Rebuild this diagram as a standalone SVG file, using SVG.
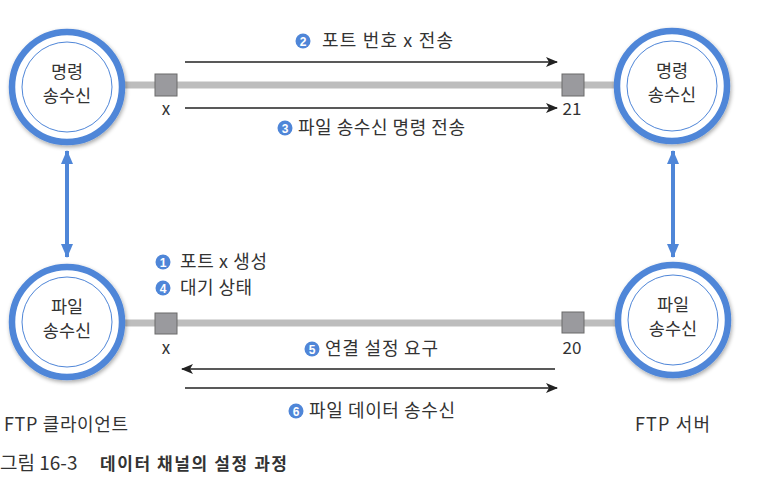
<svg xmlns="http://www.w3.org/2000/svg" width="764" height="486" viewBox="0 0 764 486">
<style>
.t{font-family:"Noto Sans CJK KR","Noto Sans",sans-serif;fill:#333;}
.lbl{font-size:18px;}
.node{font-size:17.5px;text-anchor:middle;}
.num{font-family:"Liberation Sans",Arial,sans-serif;font-size:12px;font-weight:bold;fill:#fff;text-anchor:middle;}
.outer{fill:#fff;stroke:#4f86d8;stroke-width:6.5;}
.inner{fill:none;stroke:#4f86d8;stroke-width:1;}
.chan{stroke:#bdbdbd;stroke-width:7;}
.port{fill:#9a9a9e;stroke:#6a6a6a;stroke-width:1;}
.arr{stroke:#222;stroke-width:1.3;fill:none;}
.badge{fill:#4f86d8;}
</style>
<defs>
<marker id="ah" viewBox="0 0 12 10" refX="11" refY="5" markerWidth="12" markerHeight="10" markerUnits="userSpaceOnUse" orient="auto">
<path d="M0,0 L12,5 L0,10 L3,5 Z" fill="#222"/>
</marker>
<marker id="bh" viewBox="0 0 14 12" refX="13" refY="6" markerWidth="14" markerHeight="12" markerUnits="userSpaceOnUse" orient="auto-start-reverse">
<path d="M0,0 L14,6 L0,12 Z" fill="#4f86d8"/>
</marker>
<filter id="sh" x="-20%" y="-20%" width="140%" height="140%">
<feGaussianBlur in="SourceAlpha" stdDeviation="2"/>
<feOffset dx="1" dy="2"/>
<feComponentTransfer><feFuncA type="linear" slope="0.35"/></feComponentTransfer>
<feMerge><feMergeNode/><feMergeNode in="SourceGraphic"/></feMerge>
</filter>
</defs>

<g id="connectors">
<line class="chan" x1="120" y1="85" x2="620" y2="85"/>
<line class="chan" x1="120" y1="323" x2="620" y2="323"/>
<rect class="port" x="155" y="74" width="22" height="22"/>
<rect class="port" x="562" y="74" width="22" height="22"/>
<rect class="port" x="155" y="313" width="22" height="21"/>
<rect class="port" x="562" y="312" width="22" height="21"/>
<line class="arr" x1="185" y1="62" x2="557" y2="62" marker-end="url(#ah)"/>
<line class="arr" x1="185" y1="108" x2="557" y2="108" marker-end="url(#ah)"/>
<line class="arr" x1="555" y1="369" x2="182" y2="369" marker-end="url(#ah)"/>
<line class="arr" x1="185" y1="388" x2="557" y2="388" marker-end="url(#ah)"/>
<line x1="67" y1="151" x2="67" y2="257" stroke="#4f86d8" stroke-width="4" marker-start="url(#bh)" marker-end="url(#bh)"/>
<line x1="673" y1="151" x2="673" y2="257" stroke="#4f86d8" stroke-width="4" marker-start="url(#bh)" marker-end="url(#bh)"/>
</g>

<g id="client-cmd">
<circle class="outer" cx="67" cy="87" r="55" filter="url(#sh)"/>
<circle class="inner" cx="67" cy="87" r="45"/>
<text class="t node" x="67" y="78">명령</text>
<text class="t node" x="67" y="102">송수신</text>
</g>
<g id="server-cmd">
<circle class="outer" cx="672" cy="86" r="55" filter="url(#sh)"/>
<circle class="inner" cx="672" cy="86" r="45"/>
<text class="t node" x="672" y="77">명령</text>
<text class="t node" x="672" y="101">송수신</text>
</g>
<g id="client-file">
<circle class="outer" cx="67" cy="322" r="55" filter="url(#sh)"/>
<circle class="inner" cx="67" cy="322" r="45"/>
<text class="t node" x="67" y="313">파일</text>
<text class="t node" x="67" y="337">송수신</text>
</g>
<g id="server-file">
<circle class="outer" cx="673" cy="320" r="55" filter="url(#sh)"/>
<circle class="inner" cx="673" cy="320" r="45"/>
<text class="t node" x="673" y="311">파일</text>
<text class="t node" x="673" y="335">송수신</text>
</g>

<g id="labels">
<text class="t" font-size="17" x="166" y="115" text-anchor="middle">x</text>
<text class="t" font-size="17" x="572" y="115" text-anchor="middle">21</text>
<text class="t" font-size="17" x="166" y="354" text-anchor="middle">x</text>
<text class="t" font-size="17" x="572" y="354" text-anchor="middle">20</text>

<circle class="badge" cx="303" cy="41" r="7.5"/><text class="num" x="303" y="45.5">2</text>
<text class="t lbl" x="322" y="47" textLength="131" lengthAdjust="spacing">포트 번호 x 전송</text>

<circle class="badge" cx="285" cy="128" r="7.5"/><text class="num" x="285" y="132.5">3</text>
<text class="t lbl" x="298" y="134" textLength="167" lengthAdjust="spacing">파일 송수신 명령 전송</text>

<circle class="badge" cx="163" cy="262" r="7.5"/><text class="num" x="163" y="266.5">1</text>
<text class="t lbl" x="180" y="268" textLength="87" lengthAdjust="spacing">포트 x 생성</text>

<circle class="badge" cx="163" cy="288" r="7.5"/><text class="num" x="163" y="292.5">4</text>
<text class="t lbl" x="180" y="294" textLength="72" lengthAdjust="spacing">대기 상태</text>

<circle class="badge" cx="312" cy="349" r="7.5"/><text class="num" x="312" y="353.5">5</text>
<text class="t lbl" x="325" y="355" textLength="113" lengthAdjust="spacing">연결 설정 요구</text>

<circle class="badge" cx="296" cy="411" r="7.5"/><text class="num" x="296" y="415.5">6</text>
<text class="t lbl" x="309" y="417" textLength="146" lengthAdjust="spacing">파일 데이터 송수신</text>

<text class="t lbl" x="4" y="431" textLength="124" lengthAdjust="spacing">FTP 클라이언트</text>
<text class="t lbl" x="635" y="431" textLength="75" lengthAdjust="spacing">FTP 서버</text>

<text class="t" x="0" y="470" font-size="19" fill="#666">그림 16-3</text>
<text class="t" x="100" y="470" font-size="17" font-weight="bold" fill="#222" textLength="187" lengthAdjust="spacing">데이터 채널의 설정 과정</text>
</g>
</svg>
